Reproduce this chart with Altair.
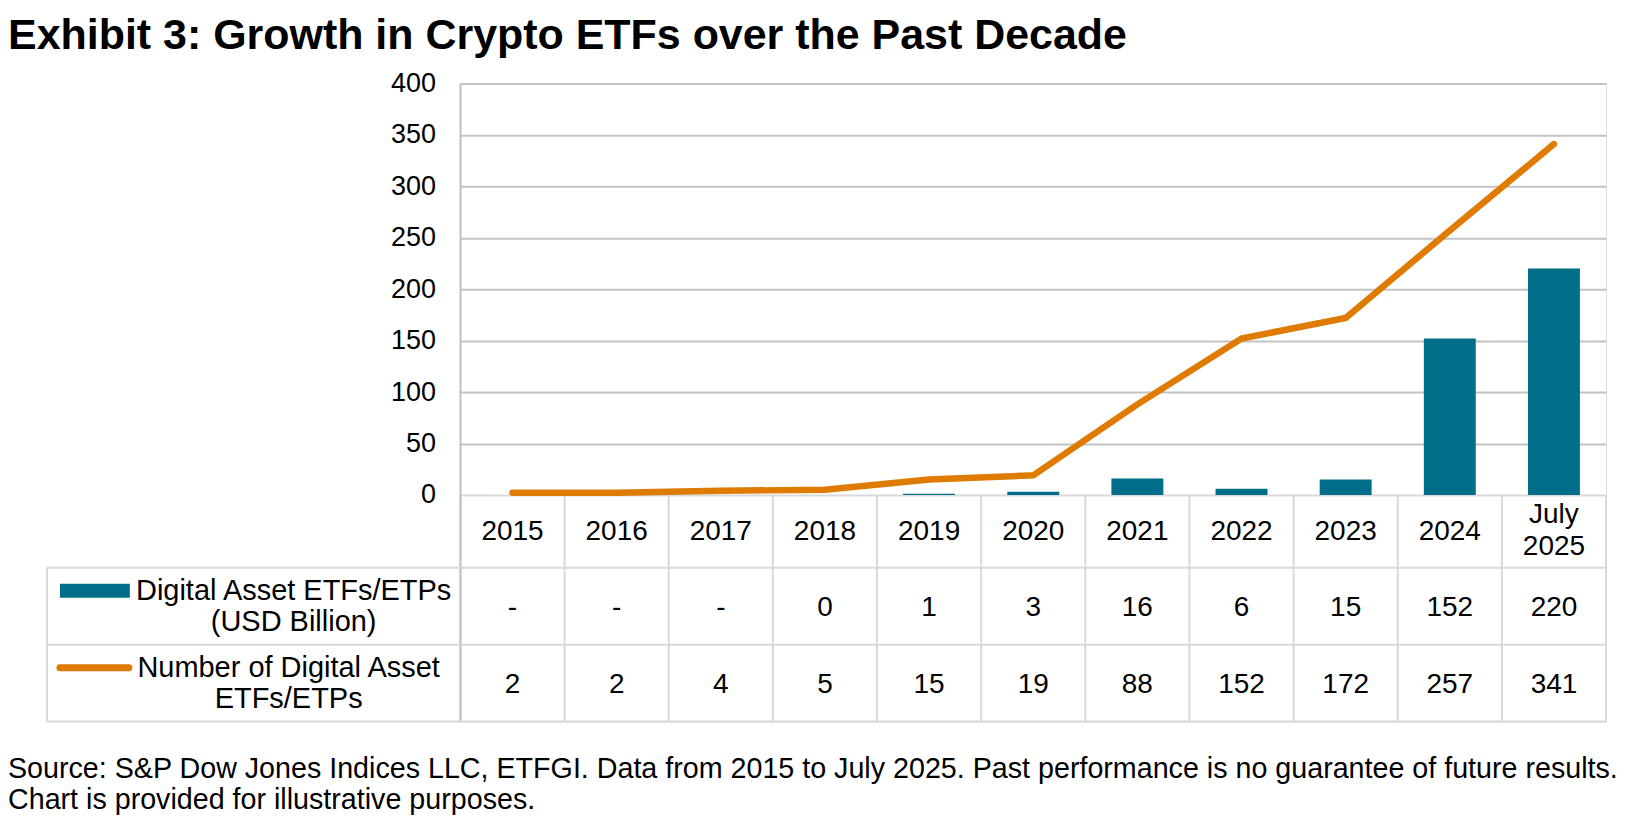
import altair as alt
import pandas as pd

# ---- data ----
categories = ["2015", "2016", "2017", "2018", "2019", "2020", "2021", "2022", "2023", "2024", "July 2025"]
header_labels = ["2015", "2016", "2017", "2018", "2019", "2020", "2021", "2022", "2023", "2024", "July\n2025"]
aum_usd_bn = [None, None, None, 0, 1, 3, 16, 6, 15, 152, 220]
num_etps = [2, 2, 4, 5, 15, 19, 88, 152, 172, 257, 341]
y_ticks = [0, 50, 100, 150, 200, 250, 300, 350, 400]

title_text = "Exhibit 3: Growth in Crypto ETFs over the Past Decade"
row1_label = "Digital Asset ETFs/ETPs\n(USD Billion)"
row2_label = "Number of Digital Asset\nETFs/ETPs"
source_text = ("Source: S&P Dow Jones Indices LLC, ETFGI. Data from 2015 to July 2025. "
               "Past performance is no guarantee of future results.\n"
               "Chart is provided for illustrative purposes.")

df = pd.DataFrame({
    "cat": categories,
    "header": header_labels,
    "multiline": ["\n" in h for h in header_labels],
    "aum": aum_usd_bn,
    "aum_label": ["-" if v is None else str(v) for v in aum_usd_bn],
    "num": num_etps,
    "num_label": [str(v) for v in num_etps],
})

# ---- layout (pixels, relative to the plot area) ----
W = 1147
H = 639
ZERO = 412
HDR_BOT = 485
R1_BOT = 562
R2_BOT = 639
LEFT = -414
LH = 31

FONT = "Liberation Sans"
TEAL = "#006E89"
ORANGE = "#DE7B00"
GRID = "#C3C3C3"
TBL = "#D9D9D9"
FS = 28

xenc = alt.X("cat:N", sort=categories, axis=None,
             scale=alt.Scale(paddingInner=0, paddingOuter=0))
yscale = alt.Scale(domain=[0, 400], range=[ZERO, 0], nice=False, zero=True)

base = alt.Chart(df)
one = alt.Chart(alt.Data(values=[{}]))

bars = base.mark_bar(color=TEAL, size=52).encode(
    x=xenc,
    y=alt.Y("aum:Q", scale=yscale,
            axis=alt.Axis(values=y_ticks, title=None, domain=False, ticks=False,
                          labelFontSize=27, labelFont=FONT, labelColor="#000000",
                          labelPadding=25,
                          gridColor=alt.condition("datum.value == 0", alt.value(TBL), alt.value(GRID)),
                          gridWidth=2)),
)

line = base.mark_line(color=ORANGE, strokeWidth=6.5, strokeCap="round", strokeJoin="miter").encode(
    x=xenc,
    y=alt.Y("num:Q", scale=yscale),
)

vlines = base.mark_rule(color=TBL, strokeWidth=2).encode(
    x=alt.X("cat:N", sort=categories, axis=None, bandPosition=0,
            scale=alt.Scale(paddingInner=0, paddingOuter=0)),
    y=alt.value(ZERO), y2=alt.value(R2_BOT),
)
left_line = one.mark_rule(color=GRID, strokeWidth=2).encode(
    x=alt.value(0), y=alt.value(0), y2=alt.value(R2_BOT))
right_line = one.mark_rule(color=TBL, strokeWidth=2).encode(
    x=alt.value(W), y=alt.value(ZERO), y2=alt.value(R2_BOT))
tbl_left = one.mark_rule(color=TBL, strokeWidth=2).encode(
    x=alt.value(LEFT), y=alt.value(HDR_BOT), y2=alt.value(R2_BOT))
h1 = one.mark_rule(color=TBL, strokeWidth=2).encode(
    x=alt.value(LEFT), x2=alt.value(W), y=alt.value(HDR_BOT))
h2 = one.mark_rule(color=TBL, strokeWidth=2).encode(
    x=alt.value(LEFT), x2=alt.value(W), y=alt.value(R1_BOT))
h3 = one.mark_rule(color=TBL, strokeWidth=2).encode(
    x=alt.value(LEFT), x2=alt.value(W), y=alt.value(R2_BOT))

txt = dict(font=FONT, fontSize=FS, color="#000000", lineBreak="\n", lineHeight=LH)

hdr_center = (ZERO + HDR_BOT) / 2
hdr1 = base.mark_text(**txt).encode(
    x=xenc, y=alt.value(hdr_center + 1), text="header:N"
).transform_filter("!datum.multiline")
hdr2 = base.mark_text(font=FONT, fontSize=FS, color="#000000", lineBreak="\n", lineHeight=32).encode(
    x=xenc, y=alt.value(hdr_center - 16), text="header:N"
).transform_filter("datum.multiline")
r1 = base.mark_text(**txt).encode(x=xenc, y=alt.value((HDR_BOT + R1_BOT) / 2 + 2), text="aum_label:N")
r2 = base.mark_text(**txt).encode(x=xenc, y=alt.value((R1_BOT + R2_BOT) / 2 + 2), text="num_label:N")

lab_style = dict(font=FONT, fontSize=29, color="#000000", lineBreak="\n", lineHeight=LH)
lab1 = one.mark_text(align="center", **lab_style).encode(
    x=alt.value(-167), y=alt.value((HDR_BOT + R1_BOT) / 2 - LH / 2), text=alt.value(row1_label))
lab2 = one.mark_text(align="center", **lab_style).encode(
    x=alt.value(-172), y=alt.value((R1_BOT + R2_BOT) / 2 - LH / 2), text=alt.value(row2_label))

sw1 = one.mark_rule(color=TEAL, strokeWidth=14).encode(
    x=alt.value(-401), x2=alt.value(-331), y=alt.value((HDR_BOT + R1_BOT) / 2 - LH / 2))
sw2 = one.mark_rule(color=ORANGE, strokeWidth=7, strokeCap="round").encode(
    x=alt.value(-401), x2=alt.value(-332), y=alt.value((R1_BOT + R2_BOT) / 2 - LH / 2))

src = one.mark_text(align="left", baseline="top", font=FONT, fontSize=28.7, color="#000000",
                    lineBreak="\n", lineHeight=31).encode(
    x=alt.value(-453), y=alt.value(R2_BOT + 33), text=alt.value(source_text))

chart = alt.layer(
    bars, vlines, left_line, right_line, tbl_left, h1, h2, h3, line,
    hdr1, hdr2, r1, r2, lab1, lab2, sw1, sw2, src,
).properties(
    width=W, height=H,
    padding={"left": 0, "top": 7, "right": 5, "bottom": 0},
    title=alt.TitleParams(title_text, anchor="start", frame="bounds", font=FONT,
                          fontSize=43, fontWeight="bold", color="#000000", offset=11),
).configure_view(stroke=None).configure(background="#ffffff")

chart.save("out.html", embed_options={"renderer": "svg", "actions": False})
